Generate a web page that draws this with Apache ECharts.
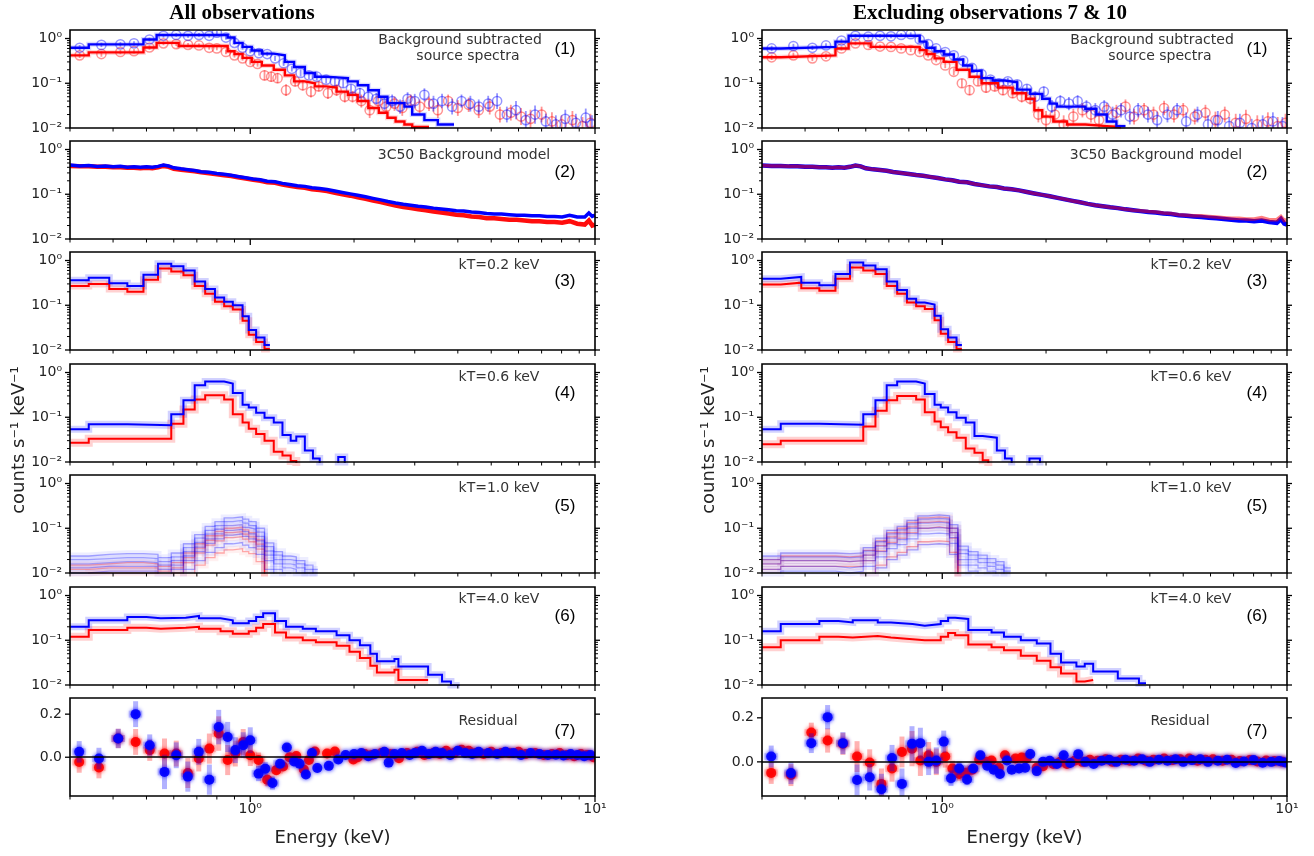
<!DOCTYPE html>
<html><head><meta charset="utf-8">
<script src="https://cdn.jsdelivr.net/npm/echarts@6/dist/echarts.min.js"></script>
<style>html,body{margin:0;padding:0;background:#fff}#c{width:1314px;height:856px}</style>
</head><body><div id="c"></div>
<script>
// ---------------- DATA ----------------
const X_MIN = 0.3, X_MAX = 10;
const Y_MIN = 0.01, Y_MAX = 1.55;
const RES_RANGE_L = [-0.18, 0.275];
const RES_RANGE_R = [-0.155, 0.29];
const X_MAJOR = [1, 10];
const X_MINOR = [0.3,0.4,0.5,0.6,0.7,0.8,0.9,2,3,4,5,6,7,8,9];
const Y_MAJOR_LOG = [0.01, 0.1, 1];
const Y_MINOR_LOG = [0.02,0.03,0.04,0.05,0.06,0.07,0.08,0.09,0.2,0.3,0.4,0.5,0.6,0.7,0.8,0.9];
const RES_MAJOR = [0, 0.2];

const TITLES = ['All observations', 'Excluding observations 7 & 10'];
const PANEL_TEXT = [['Background subtracted','source spectra'],['3C50 Background model'],['kT=0.2 keV'],['kT=0.6 keV'],['kT=1.0 keV'],['kT=4.0 keV'],['Residual']];
const PANEL_TAG = ['(1)','(2)','(3)','(4)','(5)','(6)','(7)'];

// Panel 1: model steps + data points [E, value, fractional error]
const P1L_BLUE_EDGES = [0.30,0.34,0.49,0.535,0.86,0.90,0.95,1.01,1.08,1.17,1.26,1.34,1.44,1.54,1.66,1.78,1.92,2.05,2.2,2.36,2.5,2.64,2.8,2.95,3.2,3.5,3.9];
const P1L_BLUE = [0.62,0.74,0.95,1.2,1.05,0.8,0.65,0.54,0.46,0.42,0.3,0.23,0.17,0.14,0.135,0.13,0.11,0.09,0.07,0.05,0.036,0.036,0.03,0.02,0.015,0.012];
const P1L_RED_EDGES = [0.30,0.34,0.49,0.535,0.62,0.86,0.90,0.95,1.01,1.08,1.17,1.26,1.34,1.44,1.54,1.66,1.78,1.92,2.05,2.2,2.36,2.5,2.64,2.8,2.95,3.3];
const P1L_RED = [0.42,0.49,0.63,0.8,0.68,0.52,0.45,0.37,0.3,0.25,0.2,0.15,0.11,0.1,0.085,0.08,0.065,0.055,0.04,0.028,0.022,0.017,0.014,0.012,0.0105];
const P1L_BLUE_PTS = [[0.32,0.62,0.15],[0.37,0.72,0.12],[0.42,0.74,0.12],[0.46,0.78,0.12],[0.51,0.95,0.1],[0.56,1.15,0.1],[0.61,1.2,0.1],[0.66,1.15,0.1],[0.71,1.2,0.1],[0.76,1.15,0.1],[0.80,1.35,0.1],[0.85,1.05,0.1],[0.9,0.8,0.1],[0.95,0.62,0.1],[1.0,0.52,0.12],[1.06,0.47,0.12],[1.12,0.45,0.12],[1.18,0.36,0.15],[1.25,0.28,0.15],[1.32,0.21,0.15],[1.4,0.17,0.2],[1.48,0.15,0.2],[1.56,0.14,0.2],[1.66,0.12,0.2],[1.76,0.11,0.25],[1.86,0.1,0.25],[1.96,0.075,0.25],[2.08,0.06,0.3],[2.2,0.05,0.35],[2.32,0.045,0.35],[2.45,0.035,0.4],[2.58,0.04,0.4],[2.72,0.03,0.45],[2.86,0.045,0.4],[3.0,0.04,0.45],[3.2,0.055,0.4],[3.4,0.035,0.5],[3.6,0.04,0.45],[3.85,0.03,0.5],[4.1,0.04,0.4],[4.35,0.035,0.5],[4.6,0.03,0.45],[4.9,0.035,0.5],[5.2,0.04,0.5],[5.55,0.02,0.5],[5.9,0.025,0.6],[6.3,0.015,0.6],[6.7,0.02,0.6],[7.2,0.014,0.5],[7.7,0.012,0.6],[8.2,0.016,0.6],[8.8,0.013,0.6],[9.4,0.017,0.6],[9.8,0.012,0.6]];
const P1L_RED_PTS = [[0.32,0.42,0.15],[0.37,0.45,0.15],[0.42,0.5,0.12],[0.46,0.52,0.12],[0.51,0.63,0.12],[0.56,0.78,0.1],[0.61,0.75,0.1],[0.66,0.72,0.1],[0.71,0.7,0.1],[0.76,0.62,0.1],[0.8,0.6,0.1],[0.85,0.5,0.12],[0.9,0.42,0.12],[0.95,0.36,0.12],[1.0,0.3,0.15],[1.05,0.27,0.15],[1.1,0.15,0.3],[1.15,0.14,0.3],[1.2,0.13,0.3],[1.27,0.07,0.35],[1.35,0.11,0.3],[1.42,0.09,0.3],[1.5,0.065,0.35],[1.58,0.085,0.3],[1.68,0.06,0.35],[1.78,0.07,0.35],[1.88,0.05,0.35],[1.98,0.05,0.35],[2.1,0.04,0.4],[2.22,0.025,0.5],[2.35,0.04,0.4],[2.48,0.03,0.45],[2.62,0.035,0.45],[2.76,0.028,0.5],[2.92,0.04,0.4],[3.1,0.03,0.45],[3.3,0.035,0.45],[3.5,0.025,0.5],[3.75,0.04,0.4],[4.0,0.028,0.5],[4.3,0.033,0.45],[4.6,0.025,0.5],[4.95,0.03,0.5],[5.3,0.02,0.5],[5.7,0.022,0.5],[6.1,0.018,0.55],[6.5,0.016,0.6],[7.0,0.02,0.5],[7.5,0.014,0.6],[8.0,0.012,0.6],[8.6,0.015,0.6],[9.2,0.011,0.6],[9.7,0.013,0.6]];

const P1R_BLUE_EDGES = [0.30,0.34,0.49,0.535,0.86,0.90,0.95,1.01,1.08,1.15,1.22,1.30,1.40,1.52,1.65,1.80,1.95,2.05,2.15,2.4,2.6,2.8,3.0,3.2,3.4];
const P1R_BLUE = [0.6,0.65,0.85,1.15,0.85,0.62,0.52,0.44,0.34,0.25,0.19,0.13,0.115,0.105,0.072,0.058,0.045,0.035,0.03,0.03,0.027,0.02,0.014,0.011];
const P1R_RED_EDGES = [0.30,0.34,0.49,0.535,0.62,0.86,0.90,0.95,1.01,1.10,1.20,1.30,1.45,1.60,1.75,1.85,1.95,2.1,2.3,2.6,3.0,3.3];
const P1R_RED = [0.38,0.42,0.6,0.78,0.65,0.55,0.45,0.36,0.3,0.2,0.14,0.1,0.08,0.06,0.045,0.025,0.018,0.014,0.012,0.011,0.0105];
const P1R_BLUE_PTS = [[0.32,0.6,0.15],[0.37,0.68,0.12],[0.42,0.62,0.12],[0.46,0.7,0.12],[0.51,0.9,0.1],[0.56,1.15,0.1],[0.61,1.1,0.1],[0.66,1.15,0.1],[0.71,1.12,0.1],[0.76,1.2,0.1],[0.81,1.25,0.1],[0.86,0.95,0.1],[0.91,0.75,0.1],[0.96,0.6,0.12],[1.02,0.5,0.12],[1.08,0.42,0.12],[1.15,0.32,0.15],[1.22,0.22,0.15],[1.3,0.16,0.2],[1.38,0.12,0.2],[1.46,0.1,0.2],[1.55,0.11,0.2],[1.65,0.095,0.25],[1.76,0.075,0.25],[1.86,0.05,0.3],[1.97,0.065,0.3],[2.08,0.03,0.4],[2.2,0.04,0.35],[2.33,0.035,0.4],[2.47,0.04,0.35],[2.62,0.03,0.4],[2.78,0.025,0.45],[2.95,0.03,0.4],[3.12,0.02,0.5],[3.3,0.025,0.45],[3.5,0.018,0.5],[3.7,0.025,0.45],[3.95,0.02,0.5],[4.2,0.015,0.55],[4.5,0.02,0.5],[4.8,0.025,0.45],[5.1,0.014,0.6],[5.5,0.02,0.5],[5.9,0.012,0.6],[6.3,0.015,0.6],[6.8,0.011,0.6],[7.3,0.013,0.6],[7.9,0.01,0.6],[8.5,0.012,0.6],[9.1,0.014,0.6],[9.7,0.011,0.6]];
const P1R_RED_PTS = [[0.32,0.38,0.15],[0.37,0.42,0.15],[0.42,0.36,0.15],[0.46,0.4,0.15],[0.51,0.6,0.12],[0.56,0.78,0.1],[0.61,0.72,0.1],[0.66,0.66,0.1],[0.71,0.65,0.1],[0.76,0.6,0.1],[0.81,0.55,0.1],[0.86,0.5,0.12],[0.91,0.42,0.12],[0.96,0.33,0.12],[1.02,0.25,0.15],[1.08,0.18,0.2],[1.14,0.1,0.25],[1.2,0.07,0.3],[1.27,0.11,0.25],[1.34,0.08,0.3],[1.42,0.085,0.3],[1.5,0.07,0.3],[1.6,0.06,0.3],[1.7,0.05,0.35],[1.8,0.045,0.35],[1.9,0.02,0.5],[2.0,0.015,0.6],[2.12,0.02,0.5],[2.25,0.012,0.6],[2.4,0.018,0.5],[2.55,0.025,0.45],[2.7,0.02,0.5],[2.85,0.015,0.55],[3.0,0.025,0.45],[3.2,0.022,0.5],[3.4,0.03,0.45],[3.6,0.018,0.5],[3.85,0.025,0.45],[4.1,0.02,0.5],[4.4,0.028,0.45],[4.7,0.02,0.5],[5.0,0.025,0.45],[5.4,0.018,0.5],[5.8,0.022,0.5],[6.2,0.015,0.55],[6.6,0.02,0.5],[7.1,0.013,0.6],[7.6,0.016,0.6],[8.2,0.012,0.6],[8.8,0.014,0.6],[9.4,0.011,0.6],[9.9,0.013,0.6]];

// Panel 2: 3C50 background model
const BG_E = [0.30,0.32,0.34,0.36,0.38,0.40,0.42,0.44,0.46,0.48,
0.50,0.52,0.54,0.56,0.58,0.60,0.63,0.66,0.69,0.72,
0.76,0.80,0.84,0.88,0.92,0.97,1.02,1.07,1.12,1.18,
1.24,1.30,1.37,1.44,1.51,1.59,1.67,1.76,1.85,1.95,
2.05,2.16,2.27,2.39,2.51,2.64,2.78,2.92,3.07,3.23,
3.40,3.58,3.76,3.96,4.16,4.38,4.61,4.85,5.10,5.36,
5.64,5.93,6.24,6.56,6.90,7.26,7.63,8.03,8.44,8.88,
9.34,9.60,9.82,10.0];
const BG_BLUE_L = [0.45,0.43,0.44,0.42,0.43,0.41,0.42,0.40,0.41,0.40,
0.41,0.40,0.42,0.45,0.43,0.39,0.37,0.355,0.34,0.32,
0.31,0.29,0.28,0.265,0.25,0.235,0.22,0.21,0.195,0.19,
0.175,0.165,0.155,0.15,0.14,0.135,0.128,0.118,0.11,0.102,
0.095,0.088,0.081,0.075,0.069,0.064,0.060,0.057,0.054,0.052,
0.049,0.047,0.045,0.043,0.042,0.040,0.039,0.037,0.036,0.036,
0.035,0.034,0.034,0.033,0.033,0.032,0.032,0.031,0.034,0.031,
0.031,0.038,0.032,0.034];
const BG_RED_L = [0.43,0.42,0.42,0.41,0.41,0.40,0.40,0.39,0.39,0.38,
0.39,0.38,0.40,0.43,0.41,0.37,0.355,0.34,0.325,0.31,
0.295,0.28,0.265,0.255,0.24,0.225,0.21,0.2,0.185,0.18,
0.165,0.155,0.145,0.14,0.13,0.125,0.118,0.108,0.1,0.093,
0.086,0.079,0.072,0.067,0.061,0.056,0.052,0.049,0.046,0.044,
0.041,0.039,0.037,0.035,0.034,0.032,0.031,0.029,0.029,0.028,
0.027,0.027,0.026,0.025,0.025,0.024,0.024,0.023,0.025,0.022,
0.021,0.026,0.02,0.021];
const BG_BLUE_R = [0.44,0.43,0.43,0.42,0.42,0.41,0.41,0.40,0.40,0.39,
0.40,0.39,0.41,0.44,0.42,0.38,0.36,0.35,0.335,0.315,
0.3,0.285,0.27,0.26,0.245,0.23,0.215,0.205,0.19,0.185,
0.17,0.16,0.15,0.145,0.135,0.13,0.122,0.112,0.104,0.097,
0.09,0.083,0.077,0.071,0.066,0.061,0.057,0.054,0.051,0.049,
0.046,0.044,0.042,0.04,0.039,0.037,0.036,0.034,0.033,0.032,
0.031,0.03,0.029,0.028,0.027,0.026,0.026,0.025,0.026,0.024,
0.023,0.028,0.022,0.021];
const BG_RED_R = [0.44,0.43,0.43,0.42,0.42,0.41,0.41,0.40,0.40,0.39,
0.40,0.39,0.41,0.44,0.42,0.38,0.36,0.35,0.335,0.315,
0.3,0.285,0.27,0.26,0.245,0.23,0.215,0.205,0.19,0.185,
0.17,0.16,0.15,0.145,0.135,0.13,0.122,0.112,0.104,0.097,
0.09,0.083,0.077,0.071,0.066,0.061,0.057,0.054,0.051,0.049,
0.046,0.044,0.043,0.041,0.04,0.038,0.037,0.035,0.034,0.033,
0.033,0.032,0.031,0.03,0.029,0.029,0.028,0.028,0.03,0.027,
0.027,0.032,0.026,0.027];

// Panel 3: kT = 0.2 keV
const P3_EDGES = [0.30,0.34,0.39,0.44,0.49,0.54,0.59,0.64,0.69,0.74,0.79,0.84,0.89,0.95,0.99,1.04,1.10,1.14];
const P3L_BLUE = [0.36,0.41,0.31,0.27,0.48,0.85,0.74,0.6,0.34,0.23,0.15,0.12,0.10,0.057,0.028,0.019,0.013];
const P3L_RED = [0.27,0.3,0.23,0.2,0.37,0.66,0.57,0.47,0.27,0.18,0.12,0.095,0.08,0.045,0.022,0.015,0.0105];
const P3R_BLUE = [0.39,0.43,0.32,0.28,0.5,0.9,0.77,0.64,0.34,0.22,0.14,0.115,0.104,0.058,0.029,0.019,0.013];
const P3R_RED = [0.29,0.32,0.24,0.21,0.39,0.7,0.6,0.5,0.27,0.18,0.115,0.095,0.082,0.046,0.023,0.015,0.0105];

// Panel 4: kT = 0.6 keV
const P4L_BLUE_EDGES = [0.30,0.34,0.44,0.59,0.64,0.69,0.74,0.84,0.89,0.95,0.99,1.04,1.10,1.17,1.24,1.31,1.36,1.44,1.52,1.59,1.80,1.88,1.95];
const P4L_BLUE = [0.054,0.07,0.066,0.116,0.24,0.52,0.63,0.57,0.35,0.19,0.165,0.126,0.098,0.076,0.04,0.03,0.037,0.018,0.012,0.004,0.013,0.004];
const P4L_RED_EDGES = [0.30,0.34,0.59,0.64,0.69,0.74,0.84,0.89,0.95,0.99,1.04,1.10,1.17,1.24,1.31,1.36,1.42];
const P4L_RED = [0.027,0.033,0.072,0.15,0.25,0.31,0.25,0.117,0.076,0.055,0.042,0.030,0.017,0.014,0.0105,0.006];
const P4R_BLUE_EDGES = [0.30,0.34,0.44,0.59,0.64,0.69,0.74,0.84,0.89,0.95,0.99,1.04,1.10,1.17,1.24,1.31,1.44,1.52,1.59,1.79,1.92,1.98];
const P4R_BLUE = [0.054,0.072,0.068,0.116,0.24,0.52,0.63,0.57,0.33,0.19,0.165,0.13,0.098,0.076,0.038,0.035,0.018,0.012,0.004,0.012,0.004];
const P4R_RED_EDGES = [0.30,0.34,0.59,0.64,0.69,0.74,0.84,0.89,0.95,0.99,1.04,1.10,1.17,1.24,1.31,1.36,1.42];
const P4R_RED = [0.025,0.03,0.062,0.14,0.24,0.3,0.25,0.13,0.08,0.06,0.046,0.035,0.02,0.016,0.011,0.006];

// Panel 5: kT = 1.0 keV (several faint realisations)
const P5L_EDGES = [0.30,0.34,0.39,0.44,0.49,0.54,0.59,0.64,0.69,0.74,0.79,0.84,0.89,0.95,0.99,1.04,1.10,1.17,1.24,1.31,1.36,1.44,1.52,1.57];
const P5L_BLUE_1 = [0.024,0.026,0.027,0.027,0.026,0.022,0.028,0.045,0.072,0.11,0.14,0.17,0.18,0.16,0.14,0.10,0.047,0.030,0.024,0.023,0.019,0.015,0.012];
const P5L_BLUE_2 = [0.02,0.021,0.022,0.022,0.021,0.018,0.023,0.037,0.06,0.09,0.115,0.14,0.15,0.13,0.115,0.082,0.039,0.025,0.02,0.019,0.016,0.012,0.01];
const P5L_BLUE_3 = [0.016,0.017,0.018,0.018,0.017,0.015,0.019,0.030,0.048,0.074,0.095,0.115,0.12,0.105,0.095,0.066,0.031,0.020,0.016,0.015,0.013,0.010,0.008];
const P5L_BLUE_4 = [0.013,0.014,0.014,0.014,0.014,0.012,0.015,0.024,0.038,0.058,0.075,0.09,0.095,0.084,0.075,0.052,0.025,0.016,0.013,0.012,0.01,0.008,0.006];
const P5L_BLUE_5 = [0.010,0.011,0.011,0.011,0.011,0.009,0.012,0.019,0.030,0.046,0.058,0.070,0.075,0.066,0.058,0.040,0.019,0.012,0.010,0.009,0.008,0.006,0.005];
const P5L_BLUE_6 = [0.006,0.0065,0.0065,0.0065,0.0065,0.0055,0.007,0.012,0.019,0.029,0.037,0.045,0.048,0.042,0.037,0.026,0.012,0.008,0.006,0.006,0.005,0.004,0.003];
const P5L_RED_1 = [0.015,0.016,0.017,0.017,0.016,0.014,0.017,0.028,0.045,0.068,0.085,0.10,0.105,0.092,0.08,0.055,0.006,0.004,0.003,0.003,0.003,0.002,0.002];
const P5L_RED_2 = [0.012,0.013,0.013,0.013,0.013,0.011,0.013,0.022,0.036,0.054,0.068,0.08,0.084,0.074,0.064,0.044,0.005,0.003,0.003,0.002,0.002,0.002,0.001];
const P5L_RED_3 = [0.009,0.010,0.010,0.010,0.010,0.008,0.010,0.017,0.028,0.042,0.052,0.062,0.065,0.057,0.05,0.034,0.004,0.003,0.002,0.002,0.002,0.002,0.001];
const P5L_RED_4 = [0.005,0.0055,0.0055,0.0055,0.0055,0.0045,0.0055,0.009,0.015,0.022,0.028,0.033,0.035,0.03,0.027,0.018,0.002,0.002,0.001,0.001,0.001,0.001,0.001];
const P5R_EDGES = [0.30,0.34,0.44,0.49,0.54,0.59,0.64,0.69,0.74,0.79,0.85,0.91,0.98,1.05,1.11,1.19,1.27,1.35,1.43,1.51,1.58];
const P5R_BLUE_1 = [0.024,0.028,0.028,0.027,0.028,0.037,0.06,0.09,0.11,0.15,0.19,0.2,0.19,0.12,0.04,0.03,0.025,0.021,0.018,0.013];
const P5R_BLUE_2 = [0.02,0.023,0.023,0.022,0.023,0.031,0.05,0.075,0.092,0.125,0.16,0.167,0.16,0.1,0.033,0.025,0.021,0.017,0.015,0.011];
const P5R_BLUE_3 = [0.016,0.019,0.019,0.018,0.019,0.025,0.04,0.06,0.075,0.1,0.13,0.135,0.13,0.08,0.027,0.02,0.017,0.014,0.012,0.009];
const P5R_BLUE_4 = [0.012,0.014,0.014,0.013,0.014,0.019,0.03,0.045,0.056,0.076,0.1,0.104,0.1,0.062,0.02,0.015,0.013,0.011,0.009,0.007];
const P5R_BLUE_5 = [0.009,0.011,0.011,0.01,0.011,0.014,0.023,0.035,0.043,0.058,0.075,0.078,0.075,0.046,0.015,0.011,0.009,0.008,0.007,0.005];
const P5R_BLUE_6 = [0.005,0.006,0.006,0.0055,0.006,0.008,0.013,0.02,0.025,0.033,0.043,0.045,0.043,0.026,0.009,0.006,0.005,0.0045,0.004,0.003];
const P5R_RED_1 = [0.02,0.024,0.024,0.023,0.024,0.032,0.052,0.08,0.1,0.135,0.17,0.18,0.17,0.1,0.006,0.004,0.003,0.003,0.002,0.002];
const P5R_RED_2 = [0.016,0.019,0.019,0.018,0.019,0.025,0.041,0.064,0.08,0.107,0.135,0.143,0.135,0.08,0.005,0.003,0.003,0.002,0.002,0.002];
const P5R_RED_3 = [0.012,0.014,0.014,0.014,0.014,0.019,0.031,0.048,0.06,0.08,0.1,0.107,0.1,0.06,0.004,0.003,0.002,0.002,0.002,0.001];
const P5R_RED_4 = [0.006,0.007,0.007,0.007,0.007,0.009,0.015,0.023,0.029,0.039,0.05,0.052,0.05,0.029,0.002,0.002,0.001,0.001,0.001,0.001];

// Panel 6: kT = 4.0 keV
const P6L_BLUE_EDGES = [0.30,0.34,0.44,0.50,0.55,0.65,0.71,0.82,0.89,0.99,1.04,1.09,1.18,1.27,1.42,1.55,1.78,1.94,2.08,2.23,2.33,2.62,2.69,3.28,3.60,3.82,4.05];
const P6L_BLUE = [0.20,0.28,0.33,0.31,0.32,0.35,0.31,0.28,0.24,0.27,0.33,0.40,0.27,0.20,0.18,0.16,0.13,0.10,0.077,0.05,0.034,0.038,0.026,0.017,0.012,0.0098];
const P6L_RED_EDGES = [0.30,0.34,0.44,0.50,0.55,0.65,0.71,0.82,0.89,0.99,1.04,1.09,1.18,1.27,1.42,1.55,1.78,1.94,2.08,2.23,2.33,2.62,2.69,3.28];
const P6L_RED = [0.12,0.17,0.19,0.18,0.19,0.2,0.18,0.16,0.14,0.16,0.19,0.23,0.15,0.115,0.1,0.09,0.075,0.055,0.04,0.027,0.019,0.022,0.013];
const P6R_BLUE_EDGES = [0.30,0.34,0.44,0.50,0.55,0.65,0.71,0.82,0.89,0.99,1.04,1.09,1.19,1.39,1.51,1.69,1.88,2.06,2.21,2.45,2.59,2.74,3.23,3.72,3.9];
const P6R_BLUE = [0.16,0.23,0.27,0.25,0.28,0.25,0.23,0.21,0.23,0.27,0.32,0.3,0.17,0.15,0.12,0.1,0.085,0.05,0.032,0.026,0.03,0.02,0.014,0.011];
const P6R_RED_EDGES = [0.30,0.34,0.44,0.50,0.55,0.65,0.71,0.82,0.89,0.99,1.04,1.09,1.19,1.39,1.51,1.69,1.88,2.06,2.21,2.45,2.59,2.74];
const P6R_RED = [0.07,0.1,0.12,0.115,0.125,0.115,0.105,0.1,0.1,0.12,0.145,0.13,0.08,0.07,0.06,0.045,0.035,0.025,0.018,0.012,0.013];

// Panel 7: residuals [E, residual, error]
const RES_L_BLUE = [[0.319,0.025,0.05],[0.364,-0.006,0.05],[0.414,0.087,0.045],[0.465,0.2,0.06],[0.511,0.056,0.05],[0.564,-0.068,0.08],[0.61,0.009,0.06],[0.659,-0.09,0.07],[0.709,0.025,0.06],[0.761,-0.104,0.07],[0.81,0.14,0.08],[0.86,0.094,0.07],[0.905,0.033,0.06],[0.954,0.056,0.06],[1.0,0.079,0.06],[1.057,-0.076,0.035],[1.105,-0.053,0.03],[1.16,-0.12,0.03],[1.22,-0.03,0.02],[1.277,0.045,0.015],[1.34,-0.02,0.012],[1.39,-0.03,0.012],[1.45,-0.08,0.01],[1.51,0.02,0.01],[1.565,-0.05,0.01],[1.69,-0.04,0.01],[1.8,-0.01,0.01],[1.89,0.01,0.01],[2.0,0.015,0.008],[2.1,0.02,0.008],[2.2,0.005,0.008],[2.3,0.015,0.008],[2.45,0.025,0.008],[2.52,-0.025,0.008],[2.62,0.015,0.008],[2.75,0.02,0.008],[2.9,0.01,0.008],[3.0,0.02,0.008],[3.15,0.03,0.008],[3.3,0.015,0.008],[3.45,0.025,0.008],[3.6,0.02,0.008],[3.8,0.01,0.008],[4.0,0.03,0.008],[4.2,0.02,0.008],[4.4,0.015,0.008],[4.6,0.025,0.008],[4.9,0.02,0.008],[5.2,0.015,0.008],[5.5,0.025,0.008],[5.8,0.02,0.008],[6.1,0.01,0.008],[6.5,0.02,0.008],[6.9,0.015,0.008],[7.3,0.01,0.008],[7.7,0.012,0.008],[8.1,0.008,0.008],[8.5,0.015,0.008],[8.9,0.01,0.008],[9.3,0.005,0.008],[9.7,0.01,0.008]];
const RES_L_RED = [[0.319,-0.022,0.05],[0.364,-0.048,0.05],[0.414,0.087,0.045],[0.465,0.071,0.06],[0.511,0.033,0.05],[0.564,0.017,0.07],[0.61,0.017,0.06],[0.659,-0.073,0.07],[0.709,-0.006,0.06],[0.761,0.04,0.07],[0.81,0.11,0.08],[0.86,-0.013,0.07],[0.905,0.017,0.06],[0.954,0.071,0.06],[1.0,0.009,0.05],[1.057,-0.013,0.035],[1.12,-0.104,0.03],[1.19,-0.06,0.02],[1.245,-0.043,0.015],[1.3,0.0,0.012],[1.36,0.006,0.012],[1.43,-0.057,0.01],[1.48,-0.013,0.01],[1.54,0.027,0.01],[1.67,0.017,0.01],[1.76,0.027,0.01],[1.99,-0.01,0.008],[2.05,0.0,0.008],[2.15,0.015,0.008],[2.25,0.01,0.008],[2.4,0.02,0.008],[2.55,0.015,0.008],[2.7,-0.005,0.008],[2.85,0.02,0.008],[3.05,0.025,0.008],[3.2,0.01,0.008],[3.4,0.02,0.008],[3.55,0.015,0.008],[3.7,0.03,0.008],[3.9,0.02,0.008],[4.1,0.035,0.008],[4.3,0.03,0.008],[4.5,0.02,0.008],[4.75,0.015,0.008],[5.0,0.025,0.008],[5.35,0.02,0.008],[5.65,0.02,0.008],[6.0,0.025,0.008],[6.3,0.015,0.008],[6.7,0.02,0.008],[7.1,0.01,0.008],[7.5,0.015,0.008],[7.9,0.02,0.008],[8.3,0.01,0.008],[8.7,0.005,0.008],[9.1,0.015,0.008],[9.5,0.01,0.008],[9.9,0.0,0.008]];
const RES_R_BLUE = [[0.319,0.024,0.05],[0.364,-0.051,0.05],[0.417,0.085,0.045],[0.465,0.203,0.055],[0.515,0.085,0.05],[0.566,-0.082,0.07],[0.616,-0.07,0.06],[0.666,-0.124,0.07],[0.715,0.017,0.06],[0.764,-0.1,0.07],[0.817,0.082,0.08],[0.864,0.085,0.07],[0.913,0.0,0.06],[0.961,0.006,0.06],[1.01,0.092,0.05],[1.06,-0.074,0.035],[1.12,-0.03,0.03],[1.18,-0.08,0.025],[1.23,-0.03,0.02],[1.29,0.03,0.015],[1.35,-0.018,0.012],[1.41,-0.036,0.012],[1.47,-0.055,0.01],[1.54,0.006,0.01],[1.59,-0.036,0.01],[1.67,-0.03,0.01],[1.74,-0.027,0.01],[1.8,0.036,0.01],[1.88,-0.042,0.01],[1.96,0.0,0.008],[2.05,0.005,0.008],[2.15,-0.01,0.008],[2.25,0.03,0.008],[2.35,-0.005,0.008],[2.48,0.035,0.008],[2.6,0.0,0.008],[2.75,-0.01,0.008],[2.9,0.005,0.008],[3.05,0.01,0.008],[3.2,0.0,0.008],[3.4,0.01,0.008],[3.6,0.005,0.008],[3.8,0.012,0.008],[4.0,0.0,0.008],[4.25,0.01,0.008],[4.5,0.005,0.008],[4.75,0.012,0.008],[5.0,0.0,0.008],[5.3,0.008,0.008],[5.6,0.012,0.008],[5.9,0.0,0.008],[6.3,0.005,0.008],[6.7,0.01,0.008],[7.1,-0.005,0.008],[7.5,0.002,0.008],[8.0,0.008,0.008],[8.5,-0.004,0.008],[9.0,0.0,0.008],[9.5,0.004,0.008],[9.9,-0.003,0.008]];
const RES_R_RED = [[0.319,-0.05,0.05],[0.364,-0.06,0.05],[0.417,0.133,0.045],[0.465,0.097,0.055],[0.515,0.082,0.05],[0.566,0.024,0.07],[0.616,-0.003,0.06],[0.666,-0.1,0.07],[0.715,-0.03,0.06],[0.764,0.045,0.07],[0.817,0.06,0.08],[0.864,0.006,0.07],[0.913,0.03,0.06],[0.961,0.0,0.06],[1.02,0.024,0.05],[1.07,-0.03,0.035],[1.12,-0.055,0.03],[1.17,-0.05,0.025],[1.22,-0.036,0.02],[1.28,0.01,0.015],[1.34,0.0,0.012],[1.39,0.006,0.012],[1.46,-0.027,0.01],[1.52,0.03,0.01],[1.63,0.015,0.01],[1.7,0.02,0.01],[1.76,0.018,0.01],[1.88,-0.027,0.01],[1.96,-0.02,0.008],[2.1,-0.01,0.008],[2.2,0.0,0.008],[2.3,-0.01,0.008],[2.42,0.005,0.008],[2.55,0.0,0.008],[2.68,0.01,0.008],[2.82,0.005,0.008],[2.98,0.012,0.008],[3.12,0.0,0.008],[3.3,0.01,0.008],[3.5,0.005,0.008],[3.7,0.015,0.008],[3.9,0.005,0.008],[4.1,0.01,0.008],[4.4,0.015,0.008],[4.65,0.008,0.008],[4.9,0.012,0.008],[5.2,0.015,0.008],[5.5,0.005,0.008],[5.8,0.01,0.008],[6.1,0.012,0.008],[6.5,0.005,0.008],[6.9,0.01,0.008],[7.3,0.004,0.008],[7.8,0.008,0.008],[8.2,0.002,0.008],[8.7,0.006,0.008],[9.2,0.004,0.008],[9.7,0.0,0.008]];

// ---------------- LAYOUT / STYLE ----------------
const COL_LEFT = [70, 762];
const GRID_W = 525, GRID_H = 98;
const ROW_TOP = [30, 141, 252, 364, 475, 587, 698];
const BLUE = '#0000ff', RED = '#ff0000';
const FONT = '"DejaVu Sans", sans-serif';

const SUP = {'0':'\u2070','1':'\u00b9','2':'\u00b2','-':'\u207b'};
function pow10Label(v){
  const l = Math.log10(v), r = Math.round(l);
  if (Math.abs(l - r) > 1e-6) return '';
  return '10' + String(r).split('').map(c => SUP[c]).join('');
}
function resLabel(v){
  if (Math.abs(v) < 1e-9) return '0.0';
  if (Math.abs(v - 0.2) < 1e-9) return '0.2';
  return '';
}

const grids = [], xAxes = [], yAxes = [], series = [];

function addGrid(col, row, resRange){
  const g = grids.length;
  grids.push({left: COL_LEFT[col], top: ROW_TOP[row], width: GRID_W, height: GRID_H,
    show: true, borderColor: '#000', borderWidth: 1.6, backgroundColor: 'rgba(0,0,0,0)', z: 4,
    containLabel: false, outerBoundsMode: 'none'});
  xAxes.push({type: 'log', logBase: 10, gridIndex: g, min: X_MIN, max: X_MAX,
    axisLine: {show: false}, axisTick: {show: false}, splitLine: {show: false}, minorTick: {show: false},
    axisLabel: {show: row === 6, formatter: pow10Label, color: '#222', fontSize: 14, fontFamily: FONT, margin: 6, showMinLabel: true, showMaxLabel: true, hideOverlap: false}});
  const yBase = {gridIndex: g, axisLine: {show: false}, axisTick: {show: false}, splitLine: {show: false},
    axisLabel: {color: '#222', fontSize: 14, fontFamily: FONT, margin: 8, hideOverlap: false}};
  if (resRange) {
    yBase.type = 'value'; yBase.min = resRange[0]; yBase.max = resRange[1];
    yBase.axisLabel.formatter = resLabel;
  } else {
    yBase.type = 'log'; yBase.logBase = 10; yBase.min = Y_MIN; yBase.max = Y_MAX;
    yBase.axisLabel.formatter = pow10Label;
  }
  yAxes.push(yBase);
  const y0 = resRange ? resRange[0] : Y_MIN, y1 = resRange ? resRange[1] : Y_MAX;
  const tdata = [];
  X_MAJOR.forEach(v => tdata.push([v, y0, 0]));
  X_MINOR.forEach(v => tdata.push([v, y0, 1]));
  (resRange ? RES_MAJOR : Y_MAJOR_LOG).forEach(v => tdata.push([X_MIN, v, 2]));
  if (!resRange) Y_MINOR_LOG.forEach(v => tdata.push([X_MIN, v, 3]));
  series.push({type: 'custom', xAxisIndex: g, yAxisIndex: g, silent: true, clip: false, z: 6, animation: false,
    data: tdata,
    renderItem: function(params, api){
      const k = api.value(2);
      const p = api.coord([api.value(0), api.value(1)]);
      const bl = api.coord([X_MIN, y0]), tr = api.coord([X_MAX, y1]);
      const st = {stroke: '#000', lineWidth: (k === 0 || k === 2) ? 1.3 : 1};
      if (k < 2) {
        const L = k === 0 ? 6 : 3.5;
        return {type: 'line', shape: {x1: p[0], y1: bl[1], x2: p[0], y2: bl[1] + L}, style: st};
      }
      const L = k === 2 ? 5 : 3;
      return {type: 'group', children: [
        {type: 'line', shape: {x1: bl[0] - L, y1: p[1], x2: bl[0], y2: p[1]}, style: st},
        {type: 'line', shape: {x1: tr[0], y1: p[1], x2: tr[0] + L, y2: p[1]}, style: st}]};
    }});
  return g;
}

function stepData(edges, vals){
  const d = [];
  for (let i = 0; i < vals.length; i++) { d.push([edges[i], vals[i]]); d.push([edges[i+1], vals[i]]); }
  return d;
}
function lineSeries(g, data, color, width, opacity, z){
  return {type: 'line', xAxisIndex: g, yAxisIndex: g, data: data, symbol: 'none', showSymbol: false,
    lineStyle: {color: color, width: width, opacity: opacity, join: 'miter'}, clip: true, silent: true, z: z, animation: false};
}
function stepWithHalo(g, edges, vals, color, coreW, haloW, haloOp){
  series.push(lineSeries(g, stepData(edges, vals), color, haloW, haloOp, 2));
  series.push(lineSeries(g, stepData(edges, vals), color, coreW, 1, 3));
}
function pointsSeries(g, pts, color){
  series.push({type: 'custom', xAxisIndex: g, yAxisIndex: g, clip: true, silent: true, z: 2, animation: false, data: pts,
    renderItem: function(params, api){
      const E = api.value(0), v = api.value(1), f = api.value(2);
      const c = api.coord([E, v]), t = api.coord([E, v * (1 + f)]), b = api.coord([E, v / (1 + f)]);
      return {type: 'group', children: [
        {type: 'line', shape: {x1: c[0], y1: t[1], x2: c[0], y2: b[1]}, style: {stroke: color, lineWidth: 1.8, opacity: 0.42}},
        {type: 'circle', shape: {cx: c[0], cy: c[1], r: 4.6}, style: {fill: 'none', stroke: color, lineWidth: 1.5, opacity: 0.42}}]};
    }});
}
function residualSeries(g, pts, color){
  series.push({type: 'custom', xAxisIndex: g, yAxisIndex: g, clip: true, silent: true, z: 3, animation: false, data: pts,
    renderItem: function(params, api){
      const E = api.value(0), v = api.value(1), e = api.value(2);
      const c = api.coord([E, v]), t = api.coord([E, v + e]), b = api.coord([E, v - e]);
      const h = E < 1.25 ? 0.045 : 0.015;
      const l = api.coord([E * (1 - h), v]), r = api.coord([E * (1 + h), v]);
      return {type: 'group', children: [
        {type: 'line', shape: {x1: l[0], y1: c[1], x2: r[0], y2: c[1]}, style: {stroke: color, lineWidth: 7, opacity: 0.16}},
        {type: 'line', shape: {x1: c[0], y1: t[1], x2: c[0], y2: b[1]}, style: {stroke: color, lineWidth: 5, opacity: 0.3}},
        {type: 'circle', shape: {cx: c[0], cy: c[1], r: 5}, style: {fill: color, opacity: 0.9, shadowBlur: 4, shadowColor: color}}]};
    }});
}

function buildColumn(col, D){
  let g = addGrid(col, 0);
  pointsSeries(g, D.p1rp, RED); pointsSeries(g, D.p1bp, BLUE);
  stepWithHalo(g, D.p1re, D.p1r, RED, 2.4, 5, 0.15);
  stepWithHalo(g, D.p1be, D.p1b, BLUE, 2.4, 5, 0.15);
  g = addGrid(col, 1);
  const bgB = BG_E.map((e, i) => [e, D.bgb[i]]), bgR = BG_E.map((e, i) => [e, D.bgr[i]]);
  if (col === 0) {
    series.push(lineSeries(g, bgR, RED, 4.5, 0.95, 2));
    series.push(lineSeries(g, bgB, BLUE, 3.5, 1, 3));
  } else {
    series.push(lineSeries(g, bgB, BLUE, 4.5, 1, 2));
    series.push(lineSeries(g, bgR, RED, 3.5, 0.5, 3));
  }
  g = addGrid(col, 2);
  stepWithHalo(g, P3_EDGES, D.p3r, RED, 2, 7, 0.18);
  stepWithHalo(g, P3_EDGES, D.p3b, BLUE, 2, 7, 0.18);
  g = addGrid(col, 3);
  stepWithHalo(g, D.p4re, D.p4r, RED, 2, 8, 0.18);
  stepWithHalo(g, D.p4be, D.p4b, BLUE, 2, 7, 0.18);
  g = addGrid(col, 4);
  D.p5r.forEach(v => { series.push(lineSeries(g, stepData(D.p5e, v), RED, 7, 0.06, 2)); series.push(lineSeries(g, stepData(D.p5e, v), RED, 1.3, 0.3, 3)); });
  D.p5b.forEach(v => { series.push(lineSeries(g, stepData(D.p5e, v), BLUE, 7, 0.07, 2)); series.push(lineSeries(g, stepData(D.p5e, v), BLUE, 1.3, 0.32, 3)); });
  g = addGrid(col, 5);
  stepWithHalo(g, D.p6re, D.p6r, RED, 2, 8, 0.18);
  stepWithHalo(g, D.p6be, D.p6b, BLUE, 2, 7, 0.18);
  g = addGrid(col, 6, col === 0 ? RES_RANGE_L : RES_RANGE_R);
  series.push({type: 'line', xAxisIndex: g, yAxisIndex: g, data: [], silent: true, z: 4, animation: false,
    markLine: {silent: true, symbol: 'none', animation: false, label: {show: false},
      lineStyle: {color: '#000', type: 'solid', width: 1.6}, data: [{yAxis: 0}]}});
  residualSeries(g, D.resr, RED);
  residualSeries(g, D.resb, BLUE);
}

buildColumn(0, {p1be: P1L_BLUE_EDGES, p1b: P1L_BLUE, p1re: P1L_RED_EDGES, p1r: P1L_RED, p1bp: P1L_BLUE_PTS, p1rp: P1L_RED_PTS,
  bgb: BG_BLUE_L, bgr: BG_RED_L, p3b: P3L_BLUE, p3r: P3L_RED,
  p4be: P4L_BLUE_EDGES, p4b: P4L_BLUE, p4re: P4L_RED_EDGES, p4r: P4L_RED,
  p5e: P5L_EDGES, p5b: [P5L_BLUE_1, P5L_BLUE_2, P5L_BLUE_3, P5L_BLUE_4, P5L_BLUE_5, P5L_BLUE_6], p5r: [P5L_RED_1, P5L_RED_2, P5L_RED_3, P5L_RED_4],
  p6be: P6L_BLUE_EDGES, p6b: P6L_BLUE, p6re: P6L_RED_EDGES, p6r: P6L_RED,
  resb: RES_L_BLUE, resr: RES_L_RED});
buildColumn(1, {p1be: P1R_BLUE_EDGES, p1b: P1R_BLUE, p1re: P1R_RED_EDGES, p1r: P1R_RED, p1bp: P1R_BLUE_PTS, p1rp: P1R_RED_PTS,
  bgb: BG_BLUE_R, bgr: BG_RED_R, p3b: P3R_BLUE, p3r: P3R_RED,
  p4be: P4R_BLUE_EDGES, p4b: P4R_BLUE, p4re: P4R_RED_EDGES, p4r: P4R_RED,
  p5e: P5R_EDGES, p5b: [P5R_BLUE_1, P5R_BLUE_2, P5R_BLUE_3, P5R_BLUE_4, P5R_BLUE_5, P5R_BLUE_6], p5r: [P5R_RED_1, P5R_RED_2, P5R_RED_3, P5R_RED_4],
  p6be: P6R_BLUE_EDGES, p6b: P6R_BLUE, p6re: P6R_RED_EDGES, p6r: P6R_RED,
  resb: RES_R_BLUE, resr: RES_R_RED});

// ---------------- TEXT ----------------
function txt(text, x, y, font, fill, extra){
  const o = {type: 'text', x: x, y: y, silent: true, z: 100,
    style: {text: text, font: font, fill: fill, textAlign: 'center', align: 'center', textVerticalAlign: 'middle', verticalAlign: 'middle'}};
  if (extra) Object.assign(o, extra);
  return o;
}
const graphics = [];
const TITLE_X = [242, 990];
const LINE_DY = [[10, 26], [14], [13], [13], [13], [12], [23]];
const LINE_X = [[460, 468], [464], [499], [499], [499], [499], [488]];
const TAG_DY = [19, 31, 29, 29, 31, 29, 33];
for (let col = 0; col < 2; col++) {
  const off = COL_LEFT[col] - COL_LEFT[0];
  graphics.push(txt(TITLES[col], TITLE_X[col], 14, 'bold 21px "Liberation Serif", "Times New Roman", serif', '#000'));
  for (let r = 0; r < 7; r++) {
    PANEL_TEXT[r].forEach((t, i) => graphics.push(txt(t, LINE_X[r][i] + off, ROW_TOP[r] + LINE_DY[r][i], '14px ' + FONT, '#333')));
    graphics.push(txt(PANEL_TAG[r], 565 + off, ROW_TOP[r] + TAG_DY[r], '17px "Liberation Sans", Arial, sans-serif', '#000'));
  }
  graphics.push(txt('Energy (keV)', COL_LEFT[col] + GRID_W / 2, 838, '18px ' + FONT, '#222'));
  graphics.push(txt('counts s\u207b\u00b9 keV\u207b\u00b9', col === 0 ? 19 : 709, 440, '18px ' + FONT, '#222', {rotation: Math.PI / 2}));
}

const chart = echarts.init(document.getElementById('c'), null, {renderer: 'canvas'});
chart.setOption({animation: false, backgroundColor: '#fff', grid: grids, xAxis: xAxes, yAxis: yAxes, series: series, graphic: graphics});
</script></body></html>
